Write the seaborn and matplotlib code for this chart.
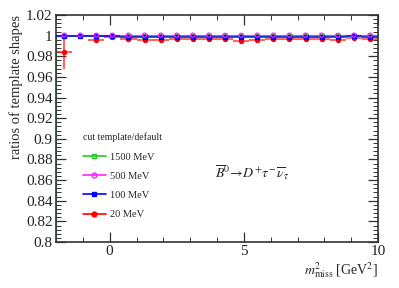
import matplotlib
matplotlib.use("Agg")
import matplotlib.pyplot as plt
import numpy as np
import pandas as pd
import seaborn as sns
from matplotlib.lines import Line2D
from matplotlib.ticker import MultipleLocator

# bin centres of m2_miss (GeV^2), bin width 0.6
bin_centers = [-1.7, -1.1, -0.5, 0.1, 0.7, 1.3, 1.9, 2.5, 3.1, 3.7,
               4.3, 4.9, 5.5, 6.1, 6.7, 7.3, 7.9, 8.5, 9.1, 9.7]
bin_half = 0.3

labels = ["1500 MeV", "500 MeV", "100 MeV", "20 MeV"]
colors = ["#22cc22", "#ff22ff", "#0000ff", "#ff0000"]

ratio_1500 = [1.0] * 20
ratio_500 = [1.0005, 1.0005, 1.0005, 1.0005, 1.0005, 1.0005, 1.0005, 1.0005, 1.0005, 1.0005,
             1.0003, 1.0003, 1.0005, 1.0005, 1.0005, 1.0005, 1.0005, 1.0003, 1.0005, 1.0005]
ratio_100 = [1.0, 1.0, 1.0, 0.9995, 0.999, 0.9985, 0.9985, 0.999, 0.999, 0.999,
             0.9985, 0.9985, 0.999, 0.999, 0.999, 0.9988, 0.999, 0.999, 0.9993, 0.999]
ratio_20 = [0.984, np.nan, 0.996, 0.999, 0.997, 0.9955, 0.9955, 0.9965, 0.9965, 0.9965,
            0.9965, 0.995, 0.996, 0.997, 0.997, 0.997, 0.997, 0.996, 0.998, 0.997]
err_20 = [0.016, 0, 0.001, 0.001, 0.001, 0.001, 0.001, 0.001, 0.001, 0.001,
          0.001, 0.001, 0.001, 0.001, 0.001, 0.001, 0.001, 0.001, 0.001, 0.001]

sns.set_theme(style="ticks")
plt.rcParams['font.family'] = ['Liberation Serif', 'DejaVu Serif']
plt.rcParams['mathtext.fontset'] = 'stix'

fig = plt.figure(figsize=(3.99, 2.88), dpi=100)
ax = fig.add_axes([0.1404, 0.1597, 0.807, 0.788])

series = [ratio_1500, ratio_500, ratio_100, ratio_20]
markers = ["s", "o", "s", "o"]
filled = [False, False, True, True]
bar_z = [2, 2.5, 3.5, 2.2]
mark_z = [2.1, 4.5, 4, 3]
bar_w = [1.2, 1.0, 1.3, 1.5]
bar_a = [0.8, 0.5, 0.8, 0.6]

# green reference drawn as histogram outline
ax.plot([-2, -2], [0.8, 1.0], color=colors[0], lw=1.6, zorder=2)
ax.hlines(ratio_1500, [c - bin_half for c in bin_centers], [c + bin_half for c in bin_centers],
          color=colors[0], lw=1.2, alpha=0.8, zorder=2)

for i, (vals, lab, col) in enumerate(zip(series, labels, colors)):
    df = pd.DataFrame({"x": bin_centers, "y": vals}).dropna()
    yerr = [err_20[j] for j in df.index] if i == 3 else 0.0004
    ax.errorbar(df.x, df.y, xerr=bin_half, yerr=yerr, fmt="none",
                ecolor=col, elinewidth=bar_w[i], alpha=bar_a[i], zorder=bar_z[i])
    sns.scatterplot(data=df, x="x", y="y", ax=ax, marker=markers[i], s=9,
                    color=col if filled[i] else "none", edgecolor=col,
                    linewidth=0.9, zorder=mark_z[i], legend=False)

# legend proxies
handles = [Line2D([0], [0], color=c, lw=1.2, marker=m, markersize=3.5,
                  markerfacecolor=c if f else "none", markeredgecolor=c)
           for c, m, f in zip(colors, markers, filled)]
leg = ax.legend(handles, labels, title="cut template/default", loc="upper left",
                bbox_to_anchor=(0.07, 0.5), frameon=False, fontsize=7.5,
                title_fontsize=7, handlelength=2.2, labelspacing=0.95,
                handletextpad=0.4, borderaxespad=0)
leg._legend_box.align = "left"

ax.text(0.495, 0.28, r"$\overline{B}^0\!\rightarrow\! D^{+}\tau^{-}\,\overline{\nu}_{\tau}$",
        transform=ax.transAxes, fontsize=10)

ax.set_xlim(-2, 10)
ax.set_ylim(0.8, 1.02)
ax.xaxis.set_major_locator(MultipleLocator(5))
ax.xaxis.set_minor_locator(MultipleLocator(1))
ax.yaxis.set_minor_locator(MultipleLocator(0.004))
ax.set_yticks(np.arange(0.8, 1.021, 0.02))
ax.set_yticklabels(["0.8", "0.82", "0.84", "0.86", "0.88", "0.9", "0.92", "0.94",
                    "0.96", "0.98", "1", "1.02"])
ax.tick_params(which="both", direction="in", top=True, right=True, labelsize=11,
               color="#333333", labelcolor="#222222", pad=2.5)
ax.tick_params(which="major", length=7, width=0.9)
ax.tick_params(which="minor", length=3.5, width=0.7)
for s in ax.spines.values():
    s.set_color("#333333")
    s.set_linewidth(1.2)

ax.set_xlabel(r"$m^2_{\rm miss}$ [GeV$^2$]", fontsize=10, loc="right", labelpad=1)
ax.set_ylabel("ratios of template shapes", fontsize=10.5, loc="top", labelpad=2)

fig.savefig("out.png", dpi=100)
